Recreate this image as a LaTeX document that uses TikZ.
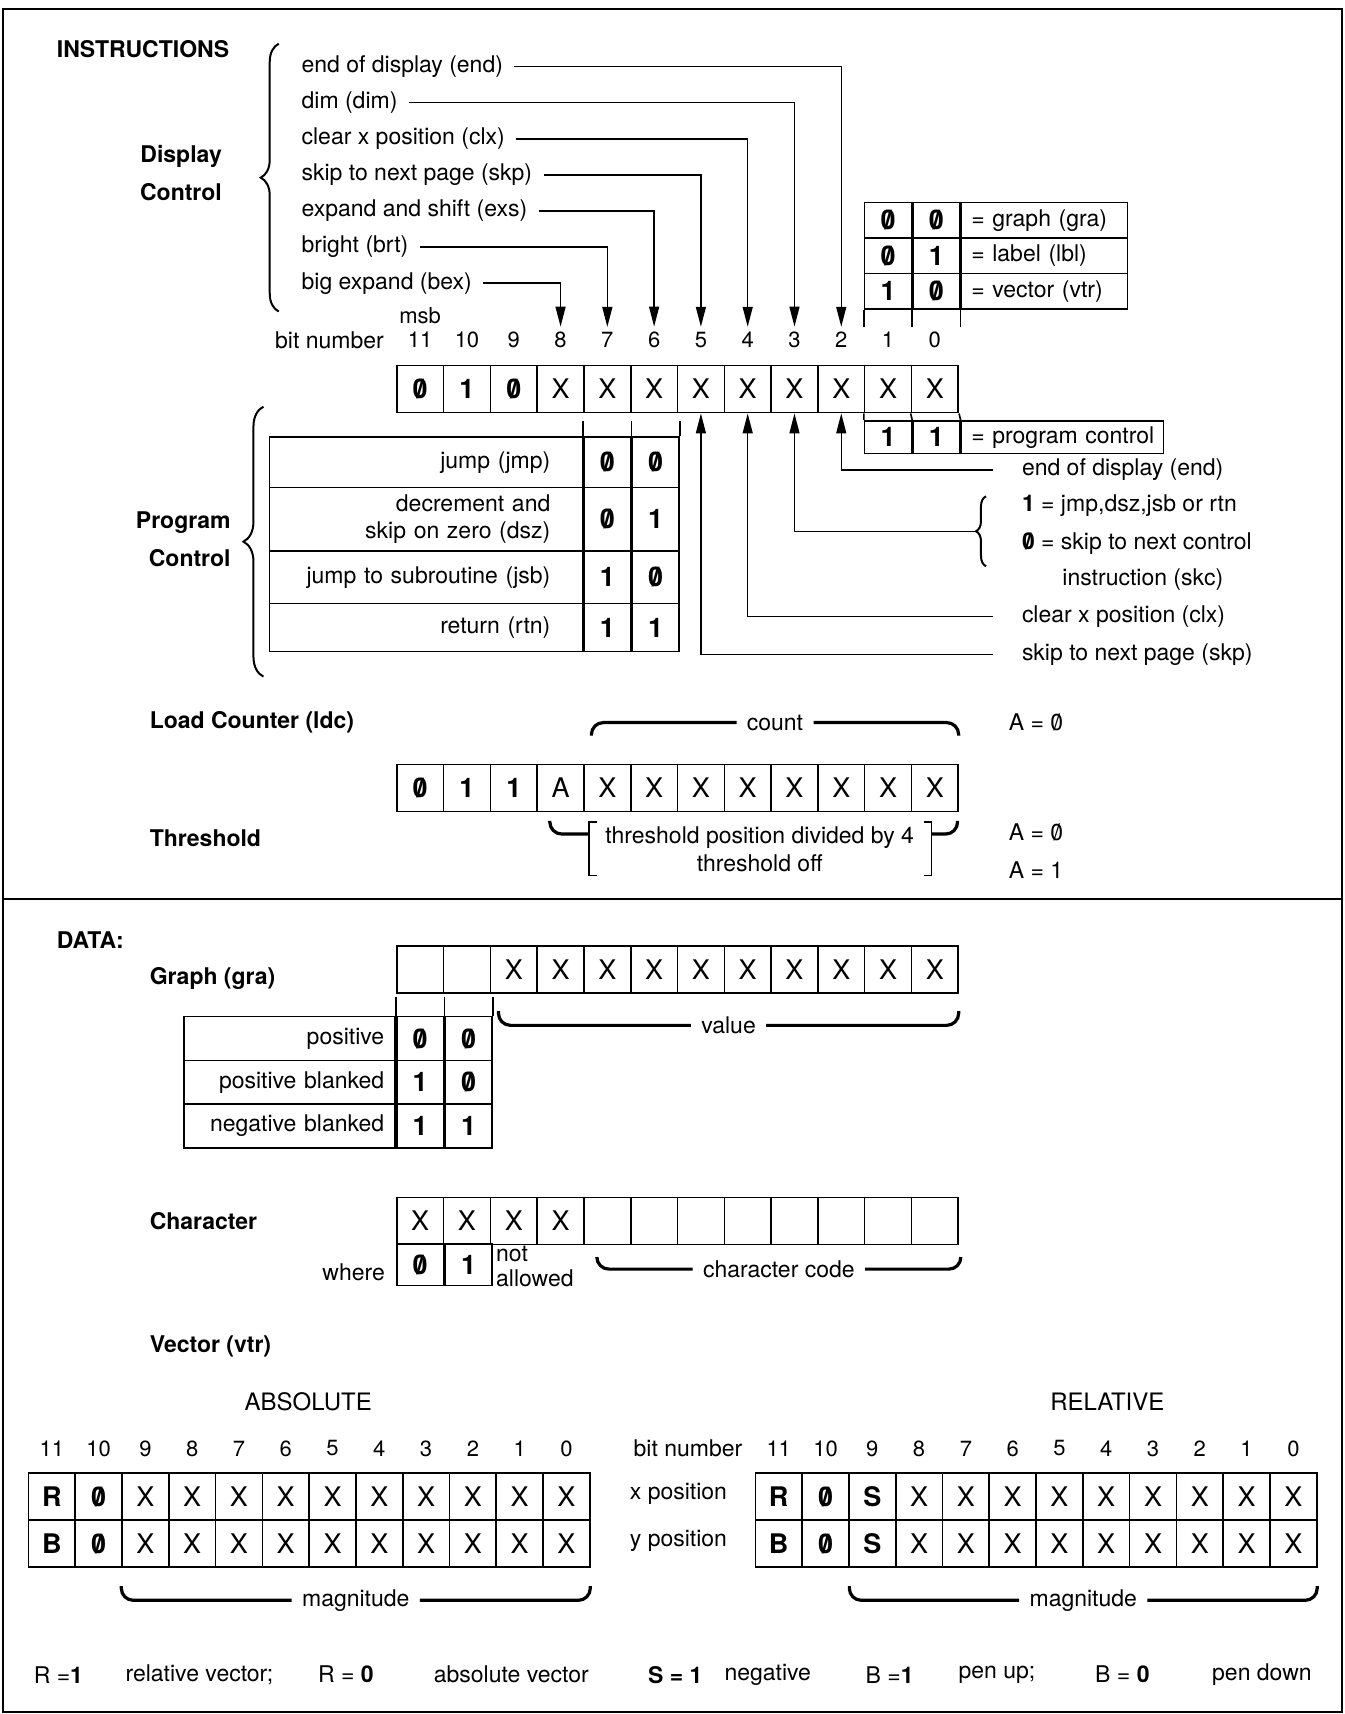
\documentclass[tikz,border=0pt]{standalone}
\usepackage{fontspec}
\setmainfont{TeX Gyre Heros}
\usetikzlibrary{arrows.meta,positioning,decorations.pathreplacing}

\def\px{0.54675pt}
\def\cstep{42.8}
\newcommand*{\lblfont}{\fontsize{11.5}{13.5}\selectfont}
\newcommand*{\zr}{\ooalign{0\cr\hidewidth/\hidewidth\cr}}
\newcommand*{\bzr}{\textbf{\zr}}
\newcommand*{\bon}{\textbf{1}}
\newcommand*{\bitnil}{}
\tikzstyle{every picture}+=[
  lbl/.style={font=\lblfont, inner sep=2.5pt},
  head/.style={font=\lblfont\bfseries, inner sep=2pt},
  num/.style={font=\fontsize{11}{13}\selectfont, inner sep=1.5pt},
  cell/.style={draw, line width=.8pt, minimum width=\cstep*\px, minimum height=43*\px,
    inner sep=0pt, font=\fontsize{13.5}{15}\selectfont},
  rowtext/.style={draw, line width=.8pt, inner ysep=0pt, align=right, font=\lblfont},
  keytext/.style={draw, line width=.8pt, inner ysep=0pt, inner xsep=3pt, align=left, font=\lblfont},
  arr/.style={-{Triangle[length=10pt,width=5pt]}, line width=.7pt},
  brc/.style={decorate, decoration={brace, amplitude=9pt}, line width=1pt},
  hbr/.style={line width=1.6pt, rounded corners=6pt}
]
\newcommand*{\bitrow}[4]{% name, left edge, centre line, cell contents
  \foreach \v [count=\i] in {#4}
    \node[cell] (#1-\i) at ({#2+(\i-.5)*\cstep}, #3) {\v};}
\newcommand*{\hbrace}[6]{% name, left, right, line, curl, text
  \node[lbl, inner xsep=5pt] (#1) at ({(#2+#3)/2}, #4) {#6};
  \draw[hbr] (#1.west) -| ({#2}, {#4+(#5)});
  \draw[hbr] (#1.east) -| ({#3}, {#4+(#5)});}

\begin{document}
\begin{tikzpicture}[x=\px, y=-\px]
  \useasboundingbox (0,0) rectangle (1230,1568);
  \draw[line width=1pt] (3,8) rectangle (1228,1566);
  \draw[line width=1pt] (3,822) -- (1228,822);
  %
  \node[head, anchor=west] (instr) at (48,45) {INSTRUCTIONS};
  \node[head, anchor=east] (dc1) at (207,143) {Display};
  \node[head, anchor=east] (dc2) at (207,176) {Control};
  \draw[brc] (255,285) -- (255,40);
  \foreach \n/\t [count=\k] in {end/end of display (end), dim/dim (dim),
      clx/clear x position (clx), skp/skip to next page (skp),
      exs/expand and shift (exs), brt/bright (brt), bex/big expand (bex)}
    \node[lbl, anchor=west] (d-\n) at (271,{28+33*\k}) {\t};
  %
  \bitrow{top}{363}{356}{\bzr,\bon,\bzr,X,X,X,X,X,X,X,X,X}
  \node[lbl, anchor=east] (bitno) at (356,311) {bit number};
  \foreach \b [count=\i] in {11,10,...,0}
    \node[num] (n\b) at (top-\i |- 0,311) {\b};
  \node[num, above=1pt of n11] (msb) {msb};
  \foreach \n/\b in {end/2, dim/3, clx/4, skp/5, exs/6, brt/7, bex/8}
    \draw[arr, shorten <=3pt, shorten >=1pt] (d-\n.east) -| (n\b.north);
  %
  \foreach \a/\b/\t [count=\r] in {\bzr/\bzr/graph (gra), \bzr/\bon/label (lbl), \bon/\bzr/vector (vtr)} {
    \node[cell, minimum height=32.5*\px] (ty\r-1) at (812.4,{169+32.5*\r}) {\a};
    \node[cell, minimum height=32.5*\px, right=0pt of ty\r-1] (ty\r-2) {\b};
    \node[keytext, minimum height=32.5*\px, text width=77pt, right=0pt of ty\r-2] (ty\r) {\,= \t};
  }
  \foreach \c in {ty3-1.south west, ty3-2.south west, ty3-2.south east}
    \draw[line width=.8pt] (\c) -- ++(0,16);
  %
  \node[cell, minimum height=30*\px] (pc-1) at (812.4,400) {\bon};
  \node[cell, minimum height=30*\px, right=0pt of pc-1] (pc-2) {\bon};
  \node[keytext, minimum height=30*\px, text width=95pt, right=0pt of pc-2] (pc) {\,= program control};
  \foreach \c/\d in {top-11.south west/pc-1.north west, top-12.south west/pc-2.north west,
      top-12.south east/pc-2.north east}
    \draw[line width=.8pt] (\c) -- (\d);
  %
  \node[lbl, anchor=west] (p-end) at (930,430) {end of display (end)};
  \node[lbl, anchor=west] (p-one) at (930,463) {\bon{} = jmp,dsz,jsb or rtn};
  \node[lbl, anchor=west] (p-zero) at (930,497) {\bzr{} = skip to next control};
  \node[lbl, anchor=west] (p-skc) at (967,530) {instruction (skc)};
  \node[lbl, anchor=west] (p-clx) at (930,564) {clear x position (clx)};
  \node[lbl, anchor=west] (p-skp) at (930,599) {skip to next page (skp)};
  \draw[brc, decoration={amplitude=5pt}] (902,518) -- (902,454);
  \coordinate (skc) at (892,486);
  \draw[arr, shorten <=12pt] (p-end.west) -| (top-10.south);
  \draw[arr] (skc) -| (top-9.south);
  \draw[arr, shorten <=12pt] (p-clx.west) -| (top-8.south);
  \draw[arr, shorten <=12pt] (p-skp.west) -| (top-7.south);
  %
  \node[head, anchor=east] (pc1) at (215,478) {Program};
  \node[head, anchor=east] (pc2) at (215,511) {Control};
  \draw[brc, decoration={amplitude=10pt}] (241,619) -- (241,372);
  \foreach \y/\h/\t/\a/\b [count=\r] in {423/46/jump (jmp)/\bzr/\bzr,
      475/58/{decrement and\\skip on zero (dsz)}/\bzr/\bon,
      528/48/jump to subroutine (jsb)/\bon/\bzr,
      574/44/return (rtn)/\bon/\bon} {
    \node[cell, minimum height=\h*\px] (pg\r-1) at (555.6,\y) {\a};
    \node[cell, minimum height=\h*\px, right=0pt of pg\r-1] (pg\r-2) {\b};
    \node[rowtext, minimum height=\h*\px, text width=124.5pt, inner xsep=16pt, left=0pt of pg\r-1] (pg\r) {\t};
  }
  \foreach \c in {pg1-1.north west, pg1-2.north west, pg1-2.north east}
    \draw[line width=.8pt] (\c) -- ++(0,-14);
  %
  \node[head, anchor=west] (ldc) at (133,661) {Load Counter (ldc)};
  \hbrace{cnt}{541}{877}{661}{12}{count}
  \node[lbl, anchor=west] (acnt) at (918,661) {A = \zr};
  \bitrow{lc}{363}{721}{\bzr,\bon,\bon,A,X,X,X,X,X,X,X,X}
  \node[head, anchor=west] (thrh) at (133,767) {Threshold};
  \node[lbl, align=center, font=\fontsize{11.5}{14.2}\selectfont] (thr) at (695,777)
    {threshold position divided by 4\\threshold off};
  \draw[line width=.8pt] (546,752) -| (539,801) -- (546,801);
  \draw[line width=.8pt] (845,752) -| (852,801) -- (845,801);
  \draw[hbr] (539,763) -| (503,751);
  \draw[hbr] (852,763) -| (876,751);
  \node[lbl, anchor=west] (aon) at (918,761) {A = \zr};
  \node[lbl, anchor=west] (aoff) at (918,796) {A = 1};
  %
  \node[head, anchor=west] (data) at (48,860) {DATA:};
  \node[head, anchor=west] (gra) at (133,895) {Graph (gra)};
  \bitrow{gr}{363}{887}{\bitnil,\bitnil,X,X,X,X,X,X,X,X,X,X}
  \hbrace{val}{456}{877}{938}{-13}{value}
  \foreach \t/\a/\b [count=\r] in {positive/\bzr/\bzr, positive blanked/\bon/\bzr,
      negative blanked/\bon/\bon} {
    \node[cell, minimum height=40*\px] (sg\r-1) at (384.4,{910+40*\r}) {\a};
    \node[cell, minimum height=40*\px, right=0pt of sg\r-1] (sg\r-2) {\b};
    \node[rowtext, minimum height=40*\px, text width=94.5pt, inner xsep=5.5pt, left=0pt of sg\r-1] (sg\r) {\t};
  }
  \foreach \c in {sg1-1.north west, sg1-2.north west, sg1-2.north east}
    \draw[line width=.8pt] (\c) -- ++(0,-17);
  %
  \node[head, anchor=west] (chr) at (133,1117) {Character};
  \bitrow{ch}{363}{1117}{X,X,X,X,\bitnil,\bitnil,\bitnil,\bitnil,\bitnil,\bitnil,\bitnil,\bitnil}
  \node[cell, minimum height=38*\px] (wh-1) at (384.4,1157) {\bzr};
  \node[cell, minimum height=38*\px, right=0pt of wh-1] (wh-2) {\bon};
  \node[lbl, anchor=east] (where) at (357,1164) {where};
  \node[lbl, anchor=north west, align=left, inner sep=1.5pt, font=\fontsize{11.5}{12.5}\selectfont]
    (notal) at (wh-2.north east) {not\\allowed};
  \hbrace{ccd}{546}{879}{1161}{-11}{character code}
  %
  \node[head, anchor=west] (vtr) at (133,1232) {Vector (vtr)};
  \node[lbl, font=\fontsize{12}{14}\selectfont] (abs) at (282,1282) {ABSOLUTE};
  \node[lbl, font=\fontsize{12}{14}\selectfont] (rel) at (1013,1282) {RELATIVE};
  \bitrow{ax}{26}{1369}{\textbf{R},\bzr,X,X,X,X,X,X,X,X,X,X}
  \bitrow{ay}{26}{1412}{\textbf{B},\bzr,X,X,X,X,X,X,X,X,X,X}
  \bitrow{rx}{691}{1369}{\textbf{R},\bzr,\textbf{S},X,X,X,X,X,X,X,X,X}
  \bitrow{ry}{691}{1412}{\textbf{B},\bzr,\textbf{S},X,X,X,X,X,X,X,X,X}
  \foreach \b [count=\i] in {11,10,...,0} {
    \node[num] (an\b) at (ax-\i |- 0,1325) {\b};
    \node[num] (rn\b) at (rx-\i |- 0,1325) {\b};
  }
  \node[lbl, anchor=east] (rbitno) at (684,1325) {bit number};
  \node[lbl, anchor=east] (xpos) at (670,1367) {x position};
  \node[lbl, anchor=east] (ypos) at (670,1410) {y position};
  \hbrace{amag}{111}{540}{1464}{-13}{magnitude}
  \hbrace{rmag}{777}{1205}{1464}{-13}{magnitude}
  %
  \foreach \x/\t [count=\k] in {26/{R =\bon}, 110/{relative vector;}, 286/{R = \textbf{0}},
      392/{absolute vector}, 588/{\textbf{S = 1}}, 658/{negative}, 787/{B =\bon},
      872/{pen up;}, 997/{B = \textbf{0}}, 1104/{pen down}}
    \node[lbl, anchor=west] (key\k) at (\x,1532) {\t};
\end{tikzpicture}
\end{document}
